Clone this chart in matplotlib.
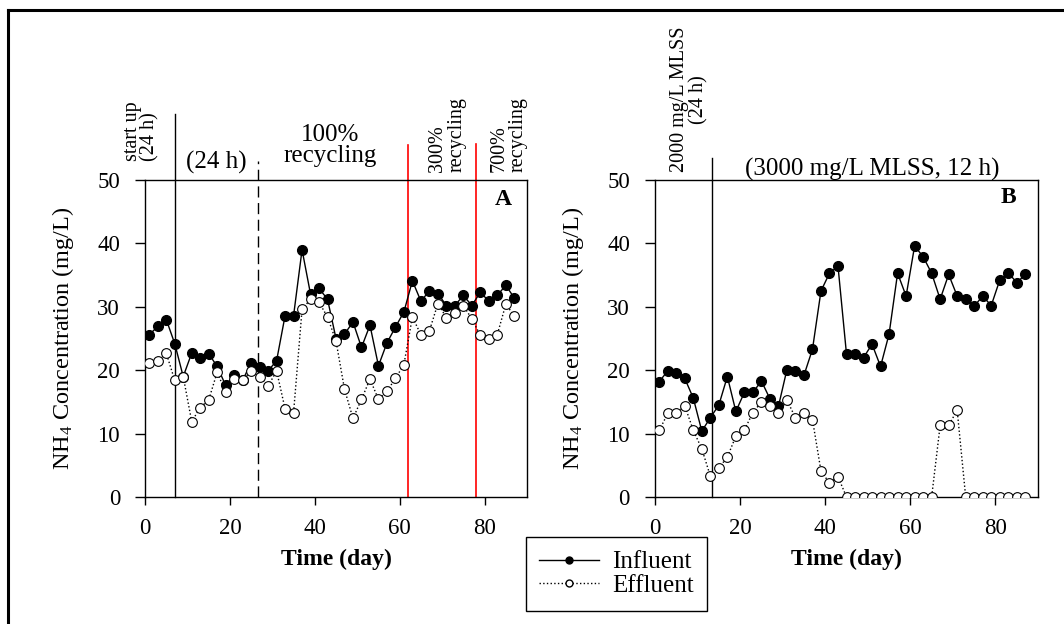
import numpy as np
import matplotlib
matplotlib.use("Agg")
import matplotlib.pyplot as plt
from matplotlib.lines import Line2D

plt.rcParams['font.family'] = ['Liberation Serif', 'DejaVu Serif']
plt.rcParams['mathtext.fontset'] = 'custom'
plt.rcParams['mathtext.rm'] = 'Liberation Serif'
plt.rcParams['mathtext.default'] = 'regular'

# ---- data ----
days = np.arange(1, 88, 2)

infl_A = [25.6, 26.9, 28.0, 24.2, 19.0, 22.7, 21.9, 22.6, 20.6, 17.6,
          19.3, 18.4, 21.2, 20.5, 19.9, 21.5, 28.6, 28.6, 39.0, 32.0,
          32.9, 31.2, 25.0, 25.7, 27.6, 23.6, 27.1, 20.7, 24.3, 26.8,
          29.2, 34.1, 30.9, 32.5, 32.1, 30.2, 30.2, 31.8, 30.2, 32.3,
          30.9, 31.8, 33.4, 31.4]
effl_A = [21.2, 21.4, 22.7, 18.4, 19.0, 11.9, 14.1, 15.3, 19.7, 16.5,
          18.6, 18.4, 19.9, 19.0, 17.5, 19.9, 13.9, 13.3, 29.6, 31.2,
          30.7, 28.4, 24.6, 17.0, 12.4, 15.4, 18.6, 15.4, 16.7, 18.7,
          20.9, 28.4, 25.6, 26.2, 30.5, 28.3, 29.0, 30.2, 28.1, 25.5,
          25.0, 25.6, 30.4, 28.6]

infl_B = [18.2, 19.9, 19.5, 18.7, 15.6, 10.4, 12.5, 14.5, 19.0, 13.5,
          16.5, 16.5, 18.3, 15.5, 14.3, 20.1, 19.9, 19.2, 23.3, 32.5,
          35.3, 36.4, 22.5, 22.5, 22.0, 24.1, 20.6, 25.7, 35.3, 31.7,
          39.6, 37.9, 35.3, 31.2, 35.1, 31.7, 31.2, 30.1, 31.7, 30.2,
          34.2, 35.4, 33.8, 35.1]
effl_B = [10.5, 13.2, 13.2, 14.4, 10.5, 7.6, 3.3, 4.6, 6.3, 9.6,
          10.6, 13.3, 15.0, 14.4, 13.2, 15.3, 12.5, 13.2, 12.2, 4.1,
          2.2, 3.2, 0, 0, 0, 0, 0, 0, 0, 0,
          0, 0, 0, 11.3, 11.3, 13.7, 0, 0, 0, 0,
          0, 0, 0, 0]

xticks = [0, 20, 40, 60, 80]
yticks = [0, 10, 20, 30, 40, 50]

fig = plt.figure(figsize=(10.64, 6.24), dpi=100)
axA = fig.add_axes([0.1363, 0.2035, 0.359, 0.508])
axB = fig.add_axes([0.6156, 0.2035, 0.360, 0.508])

for ax, infl, effl in [(axA, infl_A, effl_A), (axB, infl_B, effl_B)]:
    ax.plot(days, infl, '-', color='k', lw=1, marker='o', ms=7,
            mfc='k', mec='k', label='Influent', zorder=3)
    ax.plot(days, effl, ':', color='k', lw=1, marker='o', ms=7,
            mfc='white', mec='k', mew=0.8, label='Effluent', zorder=4)
    ax.set_xlim(0, 90)
    ax.set_ylim(0, 50)
    ax.set_xticks(xticks)
    ax.set_yticks(yticks)
    ax.tick_params(direction='out', width=1, labelsize=16.5)
    ax.tick_params(axis='x', length=6, pad=9)
    ax.tick_params(axis='y', length=7, pad=11)
    ax.set_xlabel('Time (day)', fontsize=17, fontweight='bold', labelpad=7)
    ax.set_ylabel('NH$_4$ Concentration (mg/L)', fontsize=17.5, labelpad=15)
    for s in ax.spines.values():
        s.set_linewidth(1)

# ---- panel A markers and notes ----
axA.plot([7, 7], [0, 60.4], color='k', lw=1, clip_on=False, zorder=2)
axA.plot([26.6, 26.6], [0, 53.0], color='k', lw=1, ls=(0, (8, 4)),
         clip_on=False, zorder=2)
axA.plot([62, 62], [0, 55.5], color='red', lw=1.2, clip_on=False, zorder=2)
axA.plot([78, 78], [0, 55.7], color='red', lw=1.2, clip_on=False, zorder=2)

fs = 18      # horizontal notes
fr = 14.5    # rotated notes
axA.text(-0.9, 53.0, 'start up\n(24 h)', rotation=90, ha='center', va='bottom',
         multialignment='left', fontsize=fr, linespacing=0.85)
axA.text(16.7, 52.8, '(24 h)', ha='center', va='center', fontsize=fs)
axA.text(43.6, 55.5, '100%\nrecycling', ha='center', va='center',
         fontsize=fs, linespacing=0.95)
axA.text(71.2, 51.2, '300%\nrecycling', rotation=90, ha='center', va='bottom',
         multialignment='left', fontsize=fr, linespacing=1.0)
axA.text(85.6, 51.2, '700%\nrecycling', rotation=90, ha='center', va='bottom',
         multialignment='left', fontsize=fr, linespacing=1.0)
axA.text(84.4, 47.0, 'A', ha='center', va='center', fontsize=fs - 1,
         fontweight='bold')

# ---- panel B markers and notes ----
axB.plot([13.3, 13.3], [0, 53.4], color='k', lw=1, clip_on=False, zorder=2)
axB.text(8.0, 51.2, '2000 mg/L MLSS\n(24 h)', rotation=90, ha='center',
         va='bottom', multialignment='center', fontsize=fr, linespacing=1.0)
axB.text(51.1, 51.7, '(3000 mg/L MLSS, 12 h)', ha='center', va='center',
         fontsize=fs)
axB.text(83.1, 47.2, 'B', ha='center', va='center', fontsize=fs - 1,
         fontweight='bold')

# ---- shared legend ----
handles = [Line2D([], [], color='k', lw=1, marker='o', ms=5, mfc='k', mec='k'),
           Line2D([], [], color='k', lw=1, ls=':', marker='o', ms=5,
                  mfc='white', mec='k')]
fig.legend(handles, ['Influent', 'Effluent'], loc='lower left',
           bbox_to_anchor=(0.494, 0.021), borderaxespad=0, fontsize=18,
           frameon=True, fancybox=False, edgecolor='k', framealpha=1,
           handlelength=2.4, borderpad=0.55, labelspacing=0.05,
           handletextpad=0.5)

# ---- outer frame (top and left edges) ----
fig.add_artist(Line2D([8 / 1064, 1], [1 - 10 / 624, 1 - 10 / 624],
                      color='k', lw=2.2, transform=fig.transFigure))
fig.add_artist(Line2D([8 / 1064, 8 / 1064], [0, 1 - 10 / 624],
                      color='k', lw=2.2, transform=fig.transFigure))

fig.savefig('out.png', dpi=100)
